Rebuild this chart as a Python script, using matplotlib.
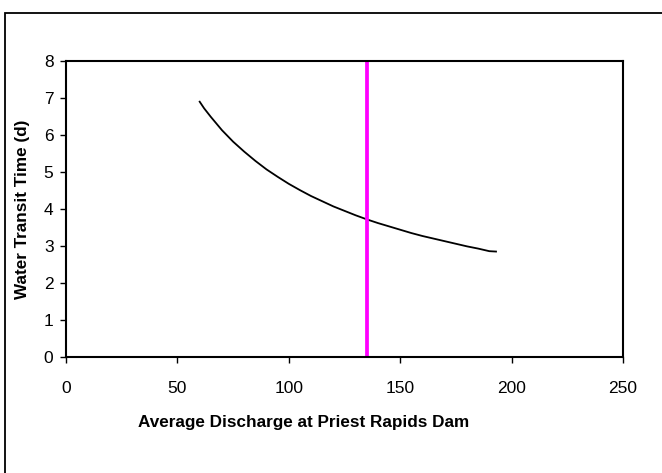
import matplotlib
matplotlib.use("Agg")
import matplotlib.pyplot as plt
from matplotlib.patches import Rectangle

# discharge vs transit time
discharge = [60, 62, 65, 70, 75, 80, 85, 90, 95, 100, 105, 110, 115, 120, 125,
             130, 135, 140, 145, 150, 155, 160, 165, 170, 175, 180, 185, 190, 193]
transit = [6.90, 6.72, 6.49, 6.13, 5.82, 5.55, 5.30, 5.07, 4.87, 4.68, 4.51, 4.35,
           4.21, 4.07, 3.95, 3.83, 3.72, 3.62, 3.53, 3.44, 3.35, 3.27, 3.20, 3.13,
           3.06, 2.99, 2.93, 2.86, 2.85]
marker_x = 135

xticks = [0, 50, 100, 150, 200, 250]
yticks = [0, 1, 2, 3, 4, 5, 6, 7, 8]

plt.rcParams['font.family'] = ['Liberation Sans', 'DejaVu Sans']

fig = plt.figure(figsize=(6.62, 4.73), dpi=100)
ax = fig.add_axes([66 / 662, 1 - 357 / 473, (623 - 66) / 662, (357 - 61) / 473])

ax.plot(discharge, transit, color="black", lw=1.3)
ax.axvline(marker_x, color="#ff00ff", lw=2.7)

ax.set_xlim(0, 250)
ax.set_ylim(0, 8)
ax.set_xticks(xticks)
ax.set_yticks(yticks)
ax.tick_params(direction="out", length=4, width=1, labelsize=12.5, pad=5)
ax.tick_params(axis="x", pad=13)
for s in ax.spines.values():
    s.set_linewidth(1.5)
    s.set_color("black")

ax.set_xlabel("Average Discharge at Priest Rapids Dam", fontsize=12.3,
              fontweight="bold")
ax.xaxis.set_label_coords((304 - 66) / 557, (357 - 422) / 296)
ax.xaxis.label.set_va("center")
ax.set_ylabel("Water Transit Time (d)", fontsize=12.3, fontweight="bold")
ax.yaxis.set_label_coords((23 - 66) / 557, 0.5)
ax.yaxis.label.set_va("center")

# outer chart border (cut off at right and bottom)
border = Rectangle((5 / 662, -0.1), 1.2, 1.1 - 13 / 473, transform=fig.transFigure,
                   fill=False, edgecolor="black", lw=1.3)
fig.patches.append(border)

fig.savefig("out.png", dpi=100)
